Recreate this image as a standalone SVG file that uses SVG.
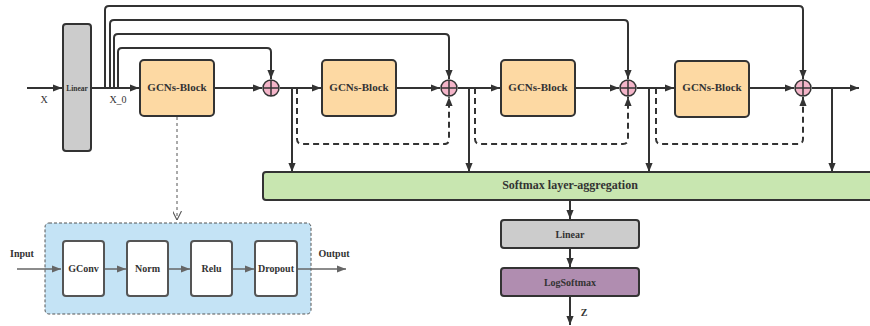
<svg xmlns="http://www.w3.org/2000/svg" width="870" height="326" viewBox="0 0 870 326">
<style>
text{font-family:"Liberation Serif","Times New Roman",serif;font-weight:bold;fill:#333;text-anchor:middle}
.blk{fill:#fdd9a3;stroke:#333;stroke-width:2}
.gray{fill:#cccccc;stroke:#333;stroke-width:2}
.ln{fill:none;stroke:#333;stroke-width:2}
.dash{fill:none;stroke:#333;stroke-width:2;stroke-dasharray:6 4}
.thin{fill:none;stroke:#666;stroke-width:1.5}
.inner{fill:#fff;stroke:#555;stroke-width:2}
.add{fill:#f4b5c9;stroke:#333;stroke-width:1.5}
</style>
<defs>
<marker id="ah" viewBox="0 0 10 8" refX="10" refY="4" markerWidth="4.5" markerHeight="3.6" orient="auto" markerUnits="strokeWidth"><path d="M0,0L10,4L0,8z" fill="#333"/></marker>
<marker id="ag" viewBox="0 0 10 8" refX="10" refY="4" markerWidth="6" markerHeight="4.8" orient="auto" markerUnits="strokeWidth"><path d="M0,0L10,4L0,8z" fill="#666"/></marker>
<marker id="ao" viewBox="0 0 10 10" refX="10" refY="5" markerWidth="9" markerHeight="9" orient="auto" markerUnits="strokeWidth"><path d="M0,0L10,5L0,10" fill="none" stroke="#555" stroke-width="1.2"/></marker>
</defs>

<g id="gcn-detail-container"><rect x="45" y="223" width="266" height="91" rx="4" fill="#c4e3f5" stroke="#555" stroke-width="1" stroke-dasharray="3 2"/></g>

<g id="connectors">
<line class="ln" x1="27" y1="88" x2="62" y2="88" marker-end="url(#ah)"/>
<line class="ln" x1="91" y1="88" x2="139" y2="88" marker-end="url(#ah)"/>
<line class="ln" x1="214" y1="88" x2="262" y2="88" marker-end="url(#ah)"/>
<line class="ln" x1="280" y1="88" x2="321" y2="88" marker-end="url(#ah)"/>
<line class="ln" x1="396" y1="88" x2="440" y2="88" marker-end="url(#ah)"/>
<line class="ln" x1="458" y1="88" x2="500" y2="88" marker-end="url(#ah)"/>
<line class="ln" x1="575" y1="88" x2="619" y2="88" marker-end="url(#ah)"/>
<line class="ln" x1="637" y1="88" x2="674" y2="88" marker-end="url(#ah)"/>
<line class="ln" x1="749" y1="88" x2="794" y2="88" marker-end="url(#ah)"/>
<line class="ln" x1="812" y1="88" x2="859" y2="88" marker-end="url(#ah)"/>
<path class="ln" d="M105,88V10Q105,6 109,6H799Q803,6 803,10V79" marker-end="url(#ah)"/>
<path class="ln" d="M110,88V24Q110,20 114,20H624Q628,20 628,24V79" marker-end="url(#ah)"/>
<path class="ln" d="M114,88V38Q114,34 118,34H445Q449,34 449,38V79" marker-end="url(#ah)"/>
<path class="ln" d="M118,88V52Q118,48 122,48H267Q271,48 271,52V79" marker-end="url(#ah)"/>
<path class="dash" d="M297,88V139Q297,144 302,144H444Q449,144 449,139V97" marker-end="url(#ah)"/>
<path class="dash" d="M475,88V139Q475,144 480,144H623Q628,144 628,139V97" marker-end="url(#ah)"/>
<path class="dash" d="M656,88V139Q656,144 661,144H798Q803,144 803,139V97" marker-end="url(#ah)"/>
<line class="ln" x1="292" y1="88" x2="292" y2="172" marker-end="url(#ah)"/>
<line class="ln" x1="469" y1="88" x2="469" y2="172" marker-end="url(#ah)"/>
<line class="ln" x1="649" y1="88" x2="649" y2="172" marker-end="url(#ah)"/>
<line class="ln" x1="832" y1="88" x2="832" y2="172" marker-end="url(#ah)"/>
<line class="ln" x1="570" y1="201" x2="570" y2="219" marker-end="url(#ah)"/>
<line class="ln" x1="570" y1="249" x2="570" y2="267" marker-end="url(#ah)"/>
<line class="ln" x1="570" y1="297" x2="570" y2="325" marker-end="url(#ah)"/>
<line x1="177" y1="117" x2="177" y2="220" stroke="#555" stroke-width="1" stroke-dasharray="3 3" marker-end="url(#ao)"/>
<line class="thin" x1="17" y1="269" x2="61" y2="269" marker-end="url(#ag)"/>
<line class="thin" x1="104" y1="269" x2="126" y2="269" marker-end="url(#ag)"/>
<line class="thin" x1="168" y1="269" x2="190" y2="269" marker-end="url(#ag)"/>
<line class="thin" x1="232" y1="269" x2="254" y2="269" marker-end="url(#ag)"/>
<line class="thin" x1="297" y1="269" x2="346" y2="269" marker-end="url(#ag)"/>
</g>

<g id="linear0"><rect class="gray" x="63" y="24" width="28" height="127" rx="3"/><text x="77" y="91" style="font-size:7.5px">Linear</text></g>
<g id="label-x"><text x="44" y="103" style="font-size:10px;font-weight:normal">X</text></g>
<g id="label-x0"><text x="118" y="103" style="font-size:10px;font-weight:normal">X_0</text></g>

<g id="gcn1"><rect class="blk" x="140" y="60" width="74" height="56" rx="4"/><text x="177" y="91" style="font-size:11px">GCNs-Block</text></g>
<g id="gcn2"><rect class="blk" x="322" y="60" width="74" height="56" rx="4"/><text x="359" y="91" style="font-size:11px">GCNs-Block</text></g>
<g id="gcn3"><rect class="blk" x="501" y="60" width="74" height="56" rx="4"/><text x="538" y="91" style="font-size:11px">GCNs-Block</text></g>
<g id="gcn4"><rect class="blk" x="675" y="61" width="74" height="56" rx="4"/><text x="712" y="91" style="font-size:11px">GCNs-Block</text></g>

<g id="add1"><circle class="add" cx="271" cy="88" r="8"/><path d="M263,88H279M271,80V96" stroke="#333" stroke-width="1.5"/></g>
<g id="add2"><circle class="add" cx="449" cy="88" r="8"/><path d="M441,88H457M449,80V96" stroke="#333" stroke-width="1.5"/></g>
<g id="add3"><circle class="add" cx="628" cy="88" r="8"/><path d="M620,88H636M628,80V96" stroke="#333" stroke-width="1.5"/></g>
<g id="add4"><circle class="add" cx="803" cy="88" r="8"/><path d="M795,88H811M803,80V96" stroke="#333" stroke-width="1.5"/></g>

<g id="softmax"><rect x="263" y="172" width="620" height="28" rx="3" fill="#c8e6b0" stroke="#333" stroke-width="2"/><text x="570" y="189" style="font-size:12px">Softmax layer-aggregation</text></g>
<g id="linear1"><rect class="gray" x="501" y="220" width="138" height="28" rx="3"/><text x="570" y="237.5" style="font-size:10px">Linear</text></g>
<g id="logsoftmax"><rect x="501" y="268" width="138" height="28" rx="3" fill="#b08db0" stroke="#333" stroke-width="2"/><text x="570" y="285.5" style="font-size:10px">LogSoftmax</text></g>
<g id="label-z"><text x="584" y="316" style="font-size:10px">Z</text></g>

<g id="gcn-detail">
<g id="gconv"><rect class="inner" x="63" y="241" width="41" height="55" rx="3"/><text x="83.5" y="272" style="font-size:10px">GConv</text></g>
<g id="norm"><rect class="inner" x="127" y="241" width="41" height="55" rx="3"/><text x="147.5" y="272" style="font-size:10px">Norm</text></g>
<g id="relu"><rect class="inner" x="191" y="241" width="41" height="55" rx="3"/><text x="211.5" y="272" style="font-size:10px">Relu</text></g>
<g id="dropout"><rect class="inner" x="255" y="241" width="42" height="55" rx="3"/><text x="276" y="272" style="font-size:10px">Dropout</text></g>
</g>
<g id="label-input"><text x="22" y="257" style="font-size:10px">Input</text></g>
<g id="label-output"><text x="334" y="257" style="font-size:10px">Output</text></g>
</svg>
